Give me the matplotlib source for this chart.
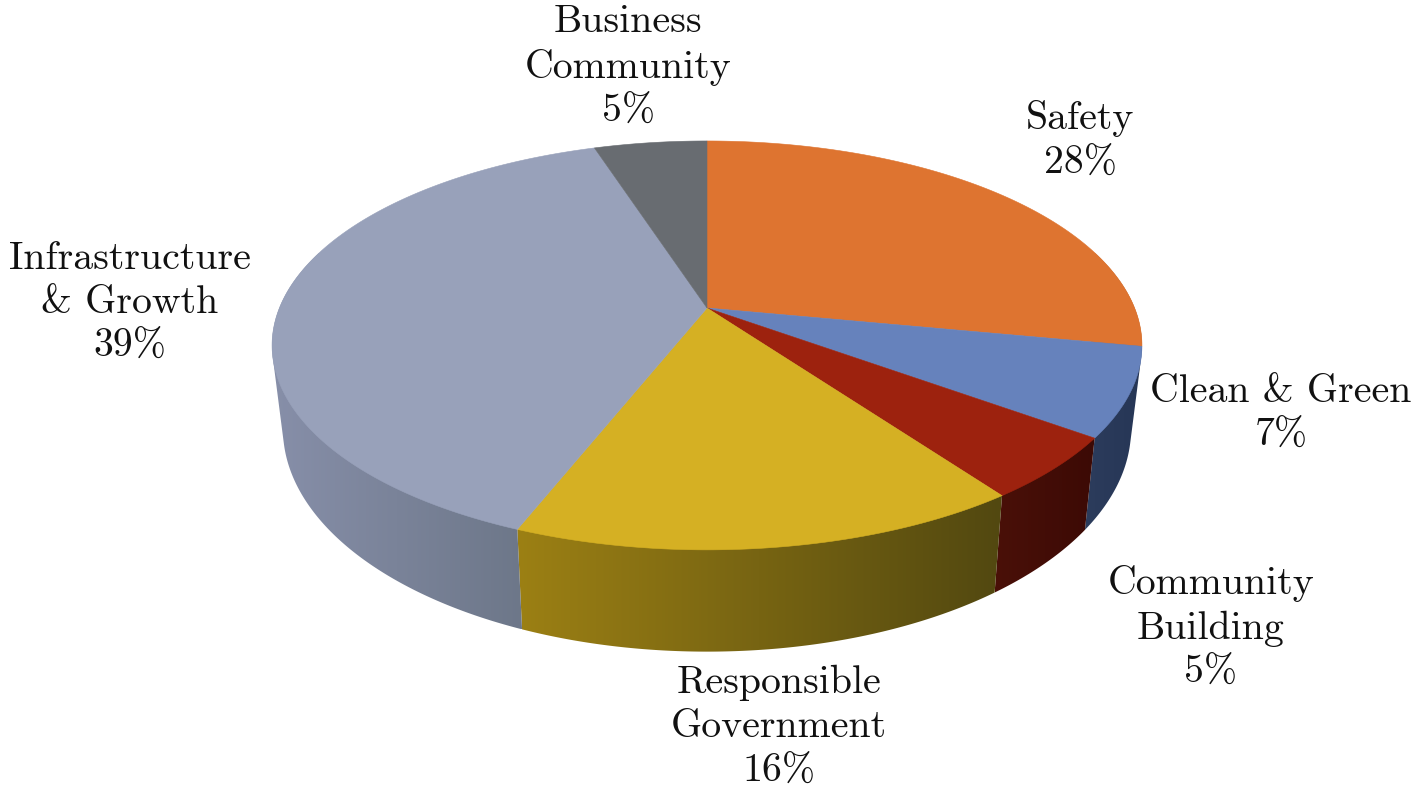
import numpy as np
import matplotlib.pyplot as plt
from matplotlib.colors import to_rgb
from matplotlib.patches import Polygon

labels = ['Safety', 'Clean & Green', 'Community\nBuilding', 'Responsible\nGovernment',
          'Infrastructure\n& Growth', 'Business\nCommunity']
values = [28, 7, 5, 16, 39, 5]

top_colors = ['#DE7430', '#6682BC', '#9D220E', '#D5B023', '#98A1BA', '#686C71']
side_left = ['#A8602A', '#2C3C5C', '#4A1008', '#9C8014', '#878FA9', '#55585C']
side_right = ['#A8602A', '#263656', '#3C0A05', '#524810', '#6D7789', '#55585C']
label_pos = [(1080, 141), (1281, 414), (1211, 628), (779, 727), (130, 303), (628, 67)]

# perspective of the pie disc, in pixels
cx, cy = 707, 308
kx, ky, p = 427.6, 197.6, 0.183
shrink, y_gain, y_shift = 0.975, 1.09, 388


def top_edge(a):
    # a is clockwise from twelve o'clock, in radians
    u, v = np.sin(a), np.cos(a)
    w = 1 + p * v
    return cx + kx * u / w, cy - ky * v / w


def bottom_edge(a):
    x, y = top_edge(a)
    return cx + shrink * (x - cx), y_shift + y_gain * (y - cy)


def hull(pts):
    # monotone chain, the wall folds over at the silhouette so its outline is not a simple arc
    pts = sorted(map(tuple, pts))

    def half(seq):
        out = []
        for q in seq:
            while len(out) > 1 and ((out[-1][0] - out[-2][0]) * (q[1] - out[-2][1])
                                    - (out[-1][1] - out[-2][1]) * (q[0] - out[-2][0])) <= 0:
                out.pop()
            out.append(q)
        return out[:-1]

    return np.array(half(pts) + half(pts[::-1]))


fig = plt.figure(figsize=(14.12, 7.88), dpi=100)
ax = fig.add_axes([0, 0, 1, 1])
ax.axis('off')

edges = np.concatenate([[0], np.cumsum(values)]) / np.sum(values) * 2 * np.pi

# side wall first, a left-to-right gradient clipped to each slice
for i in range(len(values)):
    a = np.linspace(edges[i], edges[i + 1], 300)
    a = a[np.cos(a) < 0.3]
    if len(a) < 2:
        continue
    xt, yt = top_edge(a)
    xb, yb = bottom_edge(a)
    pts = hull(np.column_stack([np.r_[xt, xb], np.r_[yt, yb]]))
    c1 = np.array(to_rgb(side_left[i]))
    c2 = np.array(to_rgb(side_right[i]))
    t = np.linspace(0, 1, 256)[:, None]
    grad = (c1 + (c2 - c1) * t)[None, :, :]
    im = ax.imshow(grad, extent=(pts[:, 0].min(), pts[:, 0].max(), pts[:, 1].max(), pts[:, 1].min()),
                   aspect='auto', interpolation='bilinear')
    poly = Polygon(pts, closed=True, transform=ax.transData, facecolor='none', edgecolor='none')
    ax.add_patch(poly)
    im.set_clip_path(poly)

# top face
for i in range(len(values)):
    a = np.linspace(edges[i], edges[i + 1], 200)
    xt, yt = top_edge(a)
    pts = np.column_stack([np.r_[cx, xt], np.r_[cy, yt]])
    ax.add_patch(Polygon(pts, closed=True, facecolor=top_colors[i], edgecolor=top_colors[i], linewidth=0.4))

for i in range(len(values)):
    txt = labels[i] + '\n' + str(values[i]) + '%'
    ax.text(label_pos[i][0], label_pos[i][1], txt, family='cmr10', fontsize=28.7, ha='center', va='center',
            ma='center', linespacing=1.3, color='#111111')

ax.set_xlim(0, 1412)
ax.set_ylim(788, 0)

fig.savefig('out.png', dpi=100)
